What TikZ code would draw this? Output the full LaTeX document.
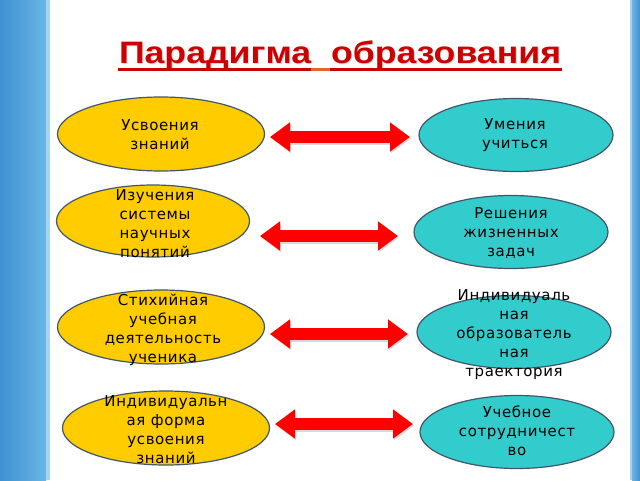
\documentclass[tikz,border=0pt]{standalone}
\usepackage{fontspec}
\usetikzlibrary{shapes.geometric,arrows.meta}
\newfontfamily\bodyfont[LetterSpace=4]{DejaVu Sans}
\newfontfamily\titlefont[FakeStretch=1.15]{Liberation Sans}
\definecolor{yel}{RGB}{255,204,0}
\definecolor{cyn}{RGB}{51,204,204}
\definecolor{outl}{RGB}{65,86,107}
\definecolor{titred}{RGB}{204,0,0}
\definecolor{titorange}{RGB}{230,100,40}
\definecolor{bl1}{RGB}{62,145,210}
\definecolor{bl2}{RGB}{105,182,228}
\definecolor{bl3}{RGB}{170,212,238}
\tikzset{
  ell/.style={ellipse, draw=outl, line width=1.2pt, inner sep=0pt},
  lell/.style={ell, fill=yel, minimum width=207, minimum height=74},
  rell/.style={ell, fill=cyn, minimum width=194, minimum height=73},
  txt/.style={align=center, inner sep=0pt, font=\bodyfont\fontsize{15}{19}\selectfont},
  bigarrow/.style={line width=12pt, draw=red, {Triangle[width=28pt,length=20pt]}-{Triangle[width=28pt,length=20pt]}},
  arrowshadow/.style={line width=12pt, draw=black!15, {Triangle[width=28pt,length=20pt]}-{Triangle[width=28pt,length=20pt]}},
  titlestyle/.style={anchor=base, inner sep=0pt, font=\titlefont\bfseries\fontsize{31}{36}\selectfont}
}
\begin{document}
\begin{tikzpicture}[x=1pt,y=-1pt]
\useasboundingbox (0,0) rectangle (640,480);
\fill[white] (0,0) rectangle (640,480);
\shade[left color=bl1, right color=bl2] (0,0) rectangle (46,480);
\fill[bl3] (46,0) rectangle (50,480);
\fill[bl3] (630,0) rectangle (632,480);
\shade[left color=bl2, right color=bl1] (632,0) rectangle (640,480);
% title
\node[titlestyle, text=black!15] (tsh) at (341,64) {Парадигма\ \ образования};
\node[titlestyle, text=titred] (title) at (340,63) {Парадигма\ \ образования};
\draw[titred, line width=2.5pt] (118,69.5) -- (311,69.5);
\draw[titorange, line width=2.5pt] (311,69.5) -- (330,69.5);
\draw[titred, line width=2.5pt] (330,69.5) -- (562,69.5);
% ellipses
\node[lell] (L1) at (161,134) {};
\node[lell, minimum width=193, minimum height=72] (L2) at (153,221) {};
\node[lell] (L3) at (161,327) {};
\node[lell] (L4) at (166,428) {};
\node[rell] (R1) at (516,135) {};
\node[rell] (R2) at (511,232) {};
\node[rell] (R3) at (514,332) {};
\node[rell] (R4) at (517,432) {};
% texts
\node[txt] (L1t) at (160,135) {Усвоения\\знаний};
\node[txt] (L2t) at (155,224) {Изучения\\системы\\научных\\понятий};
\node[txt] (L3t) at (163,330) {Стихийная\\учебная\\деятельность\\ученика};
\node[txt] (L4t) at (166,430) {Индивидуальн\\ая форма\\усвоения\\знаний};
\node[txt] (R1t) at (515,135) {Умения\\учиться};
\node[txt] (R2t) at (511,233) {Решения\\жизненных\\задач};
\node[txt] (R3t) at (514,335) {Индивидуаль\\ная\\образователь\\ная\\траектория};
\node[txt] (R4t) at (517,431) {Учебное\\сотрудничест\\во};
% arrow end points
\coordinate (a1l) at (270,137); \coordinate (a1r) at (410,137);
\coordinate (a2l) at (260,236); \coordinate (a2r) at (398,236);
\coordinate (a3l) at (270,334); \coordinate (a3r) at (408,334);
\coordinate (a4l) at (275,424); \coordinate (a4r) at (413,424);
\begin{scope}[transform canvas={shift={(1pt,-1.5pt)}}]
\draw[arrowshadow] (a1l) -- (a1r);
\draw[arrowshadow] (a2l) -- (a2r);
\draw[arrowshadow] (a3l) -- (a3r);
\draw[arrowshadow] (a4l) -- (a4r);
\end{scope}
\draw[bigarrow] (a1l) -- (a1r);
\draw[bigarrow] (a2l) -- (a2r);
\draw[bigarrow] (a3l) -- (a3r);
\draw[bigarrow] (a4l) -- (a4r);
\end{tikzpicture}
\end{document}
